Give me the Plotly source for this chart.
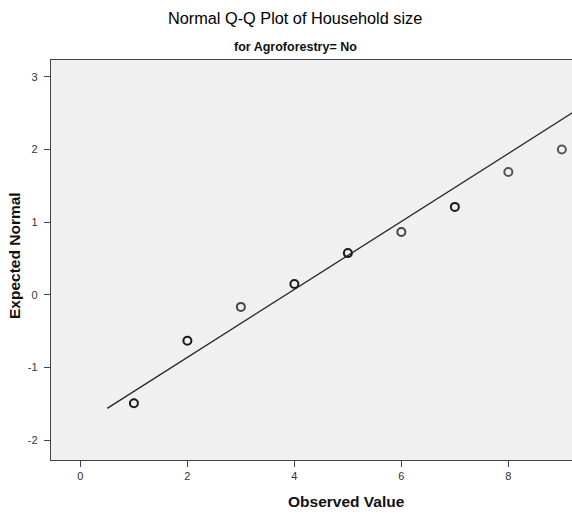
import plotly.graph_objects as go

observed = [1, 2, 3, 4, 5, 6, 7, 8, 9]
expected = [-1.49, -0.63, -0.165, 0.15, 0.575, 0.865, 1.21, 1.69, 2.0]
point_colors = ["#1a1a1a", "#1a1a1a", "#444444", "#1a1a1a", "#1a1a1a", "#444444", "#1a1a1a", "#555555", "#555555"]
line_x = [0.5, 9.5]
line_y = [-1.56, 2.645]
x_ticks = [0, 2, 4, 6, 8]
y_ticks = [-2, -1, 0, 1, 2, 3]
y_tick_labels = ["-2", "-1", "0", "1", "2", "3"]

fig = go.Figure()
fig.add_trace(go.Scatter(x=line_x, y=line_y, mode="lines",
                         line=dict(color="#262626", width=1.3), showlegend=False, hoverinfo="skip"))
fig.add_trace(go.Scatter(x=observed, y=expected, mode="markers",
                         marker=dict(symbol="circle-open", size=8, color=point_colors,
                                     line=dict(width=2, color=point_colors)),
                         showlegend=False))

font = "Liberation Sans, Arial, sans-serif"
W, H = 572, 514
L, R, T, B = 51, 0, 60, 54
fig.update_layout(
    width=W, height=H,
    margin=dict(l=L, r=R, t=T, b=B),
    paper_bgcolor="white", plot_bgcolor="#f0f0f0",
    font=dict(family=font, color="#333333", size=11),
    xaxis=dict(range=[-0.55, 9.19], tickvals=x_ticks, showgrid=False, zeroline=False,
               showline=True, linecolor="#444444", linewidth=1.3, mirror=True,
               ticks="outside", ticklen=6, tickcolor="#444444", tickwidth=1.3,
               tickfont=dict(size=11, color="#333333")),
    yaxis=dict(range=[-2.27, 3.23], tickvals=y_ticks, ticktext=y_tick_labels,
               showgrid=False, zeroline=False,
               showline=True, linecolor="#444444", linewidth=1.3,
               ticks="outside", ticklen=6, tickcolor="#444444", tickwidth=1.3,
               ticklabelstandoff=4,
               tickfont=dict(size=11, color="#333333")),
)

pw, ph = W - L - R, H - T - B


def ann(text, px, py, size, angle=0, color="#111111"):
    fig.add_annotation(text=text, x=(px - L) / pw, y=((H - py) - B) / ph,
                       xref="paper", yref="paper", xanchor="center", yanchor="middle",
                       showarrow=False, textangle=angle,
                       font=dict(size=size, color=color, family=font))


ann("Normal Q-Q Plot of Household size", 295, 18, 16.3, color="#000000")
ann("<b>for Agroforestry= No</b>", 295, 47, 12.5)
ann("<b>Observed Value</b>", 346, 501, 15.5)
ann("<b>Expected Normal</b>", 14, 256, 15.5, angle=-90)

fig.write_html("out.html", config={"displayModeBar": False},
               post_script="document.body.style.margin='0';document.body.style.overflow='hidden';")
